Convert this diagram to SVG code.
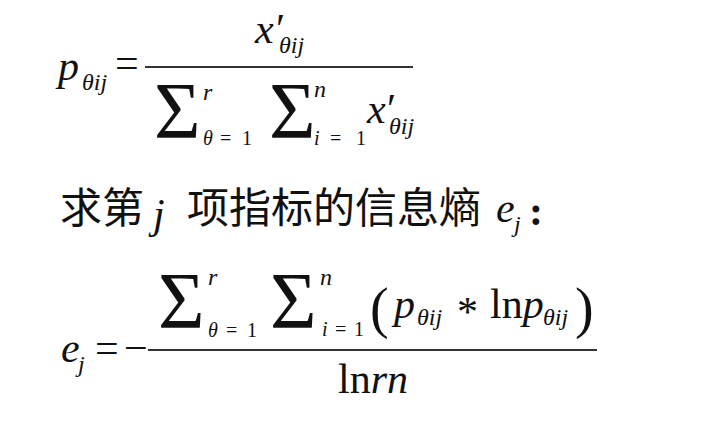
<svg xmlns="http://www.w3.org/2000/svg" width="710" height="432" viewBox="0 0 710 432">
<style>
text{font-family:"Liberation Serif","Times New Roman",serif;fill:#111}
.i{font-style:italic}
.m{font-size:42px}
.s{font-size:24px}
.l{font-size:20px}
.sig{font-size:80px}
.par{font-size:56px}
.zh{font-family:"Noto Sans CJK SC","Noto Sans CJK TC",sans-serif;font-size:42px}
.bar{stroke:#333;stroke-width:2}
</style>
<rect width="710" height="432" fill="#fff"/>
<g id="formula1">
<text class="m i" x="58" y="80">p</text>
<text class="s i" x="82" y="90">θij</text>
<text class="m" x="115" y="77">=</text>
<line class="bar" x1="145" y1="67" x2="413" y2="67"/>
<text class="m i" x="255" y="43">x</text>
<text class="m" x="276" y="43">′</text>
<text class="s i" x="279" y="53">θij</text>
<text class="sig" x="154" y="138">Σ</text>
<text class="s i" x="203" y="100">r</text>
<text class="l i" x="203" y="145">θ</text>
<text class="l" x="220" y="145">=</text>
<text class="l" x="242" y="145">1</text>
<text class="sig" x="269" y="138">Σ</text>
<text class="s i" x="314" y="97">n</text>
<text class="l i" x="314" y="145">i</text>
<text class="l" x="330" y="145">=</text>
<text class="l" x="356" y="145">1</text>
<text class="m i" x="367" y="123">x</text>
<text class="m" x="387" y="123">′</text>
<text class="s i" x="389" y="134">θij</text>
</g>
<g id="line2">
<text class="zh" x="60" y="223">求</text>
<text class="zh" x="102" y="223">第</text>
<text class="m i" x="153" y="228">j</text>
<text class="zh" x="187" y="223">项</text>
<text class="zh" x="229" y="223">指</text>
<text class="zh" x="271" y="223">标</text>
<text class="zh" x="313" y="223">的</text>
<text class="zh" x="355" y="223">信</text>
<text class="zh" x="397" y="223">息</text>
<text class="zh" x="439" y="223">熵</text>
<text class="m i" x="496" y="222">e</text>
<text class="s i" x="514" y="232">j</text>
<text class="m" x="529" y="225" font-weight="bold">:</text>
</g>
<g id="formula2">
<text class="m i" x="61" y="362">e</text>
<text class="s i" x="78" y="372">j</text>
<text class="m" x="95" y="362">=</text>
<text class="m" x="124" y="362">−</text>
<line class="bar" x1="148" y1="350" x2="597" y2="350"/>
<text class="sig" x="158" y="328">Σ</text>
<text class="s i" x="208" y="285">r</text>
<text class="l i" x="208" y="337">θ</text>
<text class="l" x="226" y="337">=</text>
<text class="l" x="247" y="337">1</text>
<text class="sig" x="270" y="328">Σ</text>
<text class="s i" x="320" y="285">n</text>
<text class="l i" x="322" y="336">i</text>
<text class="l" x="335" y="336">=</text>
<text class="l" x="354" y="336">1</text>
<text class="par" x="370" y="327">(</text>
<text class="m i" x="394" y="318">p</text>
<text class="s i" x="417" y="325">θij</text>
<text class="m" x="457" y="326">*</text>
<text class="m" x="490" y="318">ln<tspan class="i">p</tspan></text>
<text class="s i" x="543" y="325">θij</text>
<text class="par" x="575" y="327">)</text>
<text class="m" x="338" y="393">ln<tspan class="i">rn</tspan></text>
</g>
</svg>
